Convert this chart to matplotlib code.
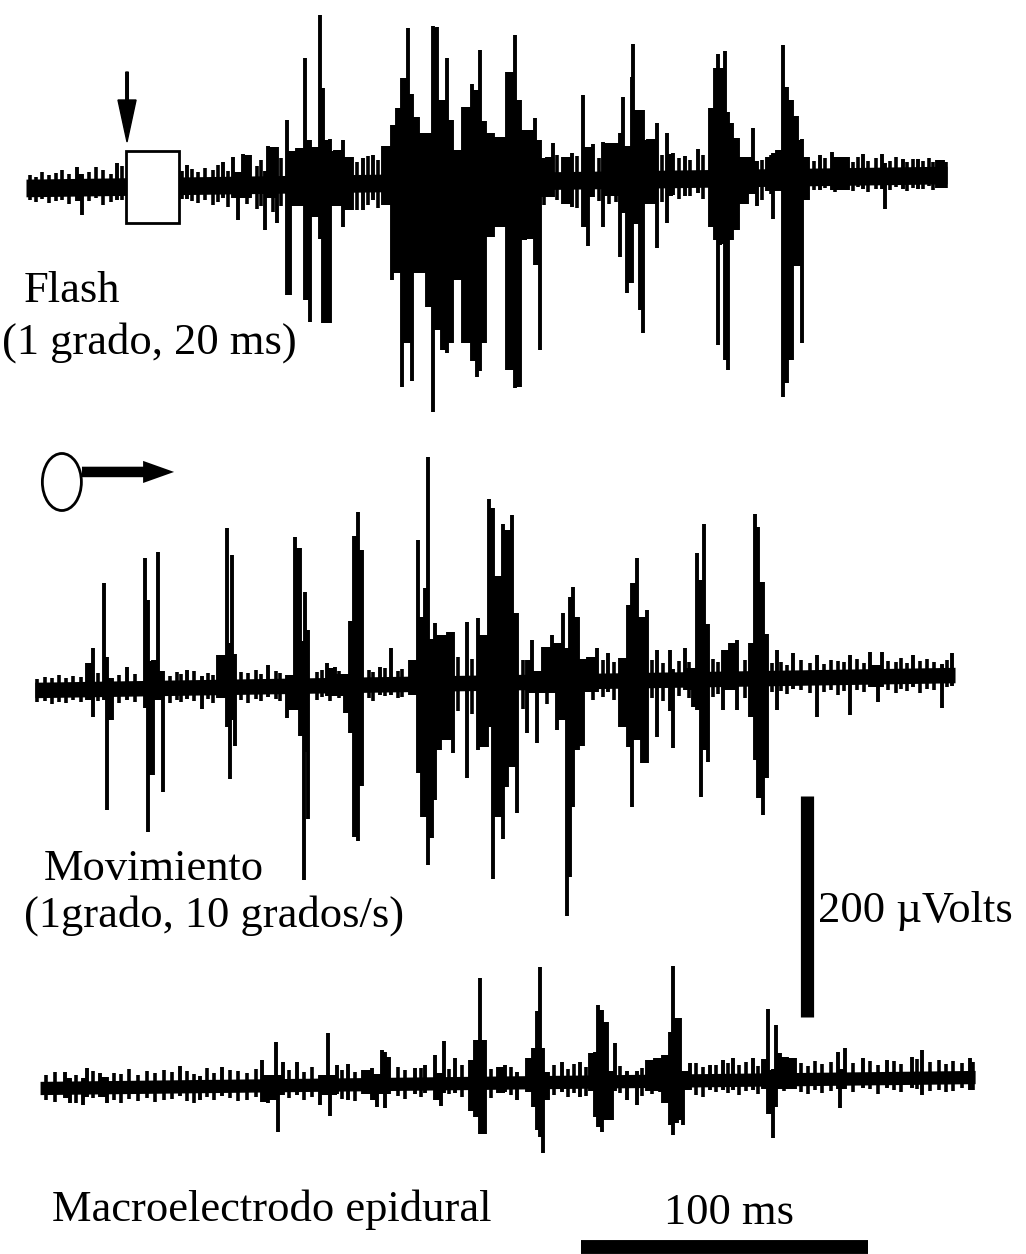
import numpy as np
import matplotlib
matplotlib.use("Agg")
import matplotlib.pyplot as plt
from matplotlib.patches import Rectangle, Ellipse, FancyArrow

# scale of the original record: pixels per ms and per microvolt
PX_MS = 2.87
PX_UV = 1.105

# --- trace 1: Flash (1 grado, 20 ms) ---  time ms, peak up uV, peak down uV
flash_t = [17.8, 19.5, 31.7, 56.1, 68.6, 72.1, 73.9, 75.6, 78.0, 83.3, 84.3, 87.5, 90.9, 92.0,
           94.4, 97.2, 99.0, 100.0, 102.4, 103.5, 105.9, 107.7, 110.5, 113.6, 117.4, 120.9,
           124.4, 127.5, 129.3, 131.0, 133.1, 134.5, 136.6, 139.7, 141.8, 143.2, 144.9, 146.7,
           148.4, 149.5, 152.3, 155.4, 157.1, 158.2, 159.9, 162.7, 165.2, 167.6, 170.4, 172.1,
           174.6, 177.4, 179.1, 181.5, 183.6, 187.1, 190.2, 194.1, 195.8, 197.6, 201.0, 204.2,
           207.0, 208.0, 209.4, 211.1, 211.5, 213.9, 215.0, 216.7, 219.9, 223.3, 225.4, 229.6,
           234.1, 238.3, 240.1, 241.1, 242.5, 243.6, 244.6, 246.0, 248.0, 251.2, 253.3, 254.7,
           258.2, 260.3, 261.7, 263.8, 265.2, 266.9, 268.6, 270.4, 272.5, 276.7, 280.8, 283.6,
           286.4, 291.6, 298.3, 299.3, 305.6, 310.8, 317.4, 319.5]
flash_up = [18, 12, 21, 19, 21, 25, 12, 28, 27, 12, 35, 34, 58, 30,
            33, 114, 40, 33, 153, 87, 40, 30, 39, 24, 23, 25,
            33, 52, 68, 95, 140, 80, 59, 45, 141, 140, 74, 112,
            56, 29, 68, 88, 83, 119, 55, 44, 40, 99, 132, 73,
            46, 57, 37, 21, 34, 21, 25, 77, 30, 33, 34, 33,
            42, 75, 30, 93, 123, 63, 63, 36, 51, 42, 23, 21,
            27, 64, 100, 112, 100, 115, 60, 50, 36, 19, 45, 15,
            19, 22, 25, 120, 82, 70, 55, 34, 18, 20, 22, 18,
            18, 20, 20, 12, 15, 15, 14, 14]
flash_dn = [12, 25, 12, 12, 12, 12, 32, 12, 12, 41, 12, 35, 100, 100,
            20, 105, 125, 30, 50, 126, 126, 20, 39, 24, 24, 15,
            20, 88, 82, 185, 145, 180, 82, 113, 208, 134, 152, 155,
            146, 89, 146, 162, 177, 171, 146, 50, 41, 171, 187, 186,
            53, 76, 153, 15, 15, 21, 24, 42, 60, 15, 43, 15,
            70, 30, 103, 94, 40, 118, 139, 22, 62, 40, 15, 16,
            13, 44, 56, 151, 60, 165, 174, 56, 47, 24, 15, 26,
            12, 38, 12, 199, 186, 165, 80, 150, 21, 12, 12, 12,
            12, 12, 12, 30, 12, 12, 12, 12]
# small background ripples of trace 1
flash_nt = [1.5, 3.5, 5.5, 8.0, 10.5, 12.5, 15.0, 22.0, 24.5, 27.0, 29.5, 33.5,
            54.5, 58.0, 60.0, 62.5, 65.0, 67.0, 70.5, 77.0, 80.5, 82.0, 86.0, 89.0,
            112.0, 115.5, 119.0, 122.5, 126.0, 180.5, 185.0, 189.0, 192.0, 199.5, 203.0,
            205.5, 218.0, 221.5, 227.5, 231.5, 236.0, 250.0, 256.5, 259.5, 274.5, 278.5,
            282.0, 285.0, 288.0, 290.0, 293.5, 296.0, 301.0, 303.0, 307.0, 309.0, 312.5,
            314.5, 316.0, 318.5, 320.5]
flash_nu = [12, 10, 14, 11, 13, 16, 12, 14, 18, 15, 12, 19,
            13, 15, 12, 16, 14, 18, 13, 20, 17, 22, 19, 24,
            22, 19, 25, 21, 24, 20, 23, 19, 22, 20, 24,
            21, 18, 22, 19, 17, 21, 18, 16, 20, 14, 17,
            12, 15, 13, 17, 14, 16, 13, 17, 12, 15, 13,
            16, 12, 14, 12]
flash_nd = [11, 13, 10, 14, 12, 11, 15, 13, 10, 16, 14, 12,
            12, 14, 16, 13, 18, 15, 20, 17, 22, 19, 25, 20,
            21, 24, 20, 23, 19, 22, 18, 21, 25, 19, 22,
            20, 17, 21, 18, 16, 19, 17, 20, 15, 12, 10,
            14, 11, 13, 10, 14, 12, 13, 10, 14, 11, 12,
            10, 13, 11, 12]

# --- trace 2: Movimiento (1grado, 10 grados/s) ---
mov_t = [21.3, 23.3, 27.2, 28.2, 30.0, 35.2, 41.5, 42.5, 44.3, 46.0, 47.7, 56.1, 61.3, 66.9,
         70.0, 71.1, 71.8, 72.8, 84.3, 90.9, 93.7, 95.5, 96.9, 97.2, 98.3, 104.9, 107.7,
         111.1, 112.9, 114.3, 115.7, 117.1, 123.3, 127.2, 133.8, 136.6, 138.0, 139.0, 140.1,
         141.5, 142.5, 144.3, 147.0, 148.8, 153.7, 157.5, 160.6, 161.3, 162.7, 164.5, 166.2,
         167.6, 169.3, 171.1, 174.6, 176.3, 178.0, 180.1, 183.3, 185.0, 187.1, 188.5, 189.5,
         190.6, 192.3, 194.1, 195.8, 199.0, 202.8, 207.0, 209.8, 211.1, 212.9, 214.6, 216.4,
         219.9, 224.4, 225.4, 229.6, 232.4, 233.8, 235.2, 236.2, 237.6, 242.9, 245.3, 247.7,
         252.3, 254.0, 255.1, 256.8, 258.2, 261.7, 267.2, 275.6, 287.1, 294.1, 296.9, 298.3,
         309.1, 319.2, 322.6]
mov_up = [24, 37, 96, 29, 10, 19, 118, 80, 25, 123, 15, 16, 10, 29,
          144, 40, 119, 30, 19, 10, 135, 125, 40, 85, 50, 20, 16,
          10, 58, 135, 156, 122, 16, 33, 22, 130, 60, 87, 205,
          40, 55, 44, 46, 46, 55, 59, 43, 166, 158, 96, 143,
          138, 151, 63, 20, 38, 10, 31, 42, 35, 62, 30, 76,
          85, 58, 20, 22, 30, 25, 20, 68, 88, 111, 57, 63,
          27, 27, 10, 28, 10, 114, 90, 140, 50, 26, 32, 35,
          32, 149, 137, 87, 40, 25, 22, 20, 20, 22, 10, 22,
          19, 10, 20]
mov_dn = [10, 25, 10, 110, 28, 10, 18, 130, 79, 11, 94, 10, 20, 10,
          36, 83, 30, 54, 10, 29, 22, 46, 176, 60, 121, 10, 10,
          25, 44, 138, 141, 92, 10, 10, 10, 81, 121, 121, 164,
          140, 105, 60, 51, 63, 86, 61, 58, 40, 178, 122, 142,
          95, 77, 118, 46, 10, 55, 10, 10, 44, 35, 212, 177,
          114, 62, 59, 10, 10, 10, 42, 60, 115, 54, 75, 75,
          52, 28, 62, 10, 25, 28, 107, 64, 75, 28, 10, 28,
          35, 74, 108, 124, 90, 29, 10, 36, 35, 10, 23, 10,
          10, 30, 10]
mov_nt = [4.0, 6.5, 9.0, 11.5, 14.0, 16.5, 19.0, 25.0, 32.5, 38.0, 50.0, 52.5, 54.0, 58.5,
          63.5, 65.0, 75.0, 77.5, 80.0, 82.0, 87.0, 88.5, 101.5, 103.0, 106.0, 109.0, 119.5,
          121.0, 125.0, 129.5, 131.0, 150.5, 155.5, 159.0, 173.0, 181.5, 197.5, 201.0, 205.0,
          218.0, 222.0, 227.5, 231.0, 239.5, 241.0, 250.5, 260.0, 263.0, 265.0, 270.0, 273.0,
          278.0, 280.5, 283.0, 285.0, 289.5, 292.0, 300.5, 303.0, 305.0, 307.0, 311.5, 314.0,
          316.5, 321.0]
mov_nu = [10, 12, 11, 13, 10, 12, 11, 14, 12, 13, 11, 14, 12, 15,
          13, 11, 13, 12, 15, 11, 14, 12, 12, 14, 11, 13, 13,
          11, 15, 12, 14, 24, 22, 26, 20, 18, 16, 19, 17,
          18, 15, 17, 16, 18, 15, 17, 14, 14, 12, 16, 13,
          12, 15, 14, 13, 16, 12, 14, 13, 16, 12, 13, 15,
          12, 14]
mov_nd = [11, 10, 13, 11, 12, 10, 12, 11, 13, 12, 14, 11, 13, 12,
          11, 14, 12, 15, 11, 13, 12, 14, 13, 11, 14, 12, 12,
          15, 11, 13, 12, 25, 28, 22, 24, 20, 17, 15, 18,
          16, 19, 15, 17, 16, 14, 18, 13, 12, 15, 11, 14,
          13, 12, 16, 13, 12, 14, 13, 15, 12, 14, 16, 12,
          13, 11]

# --- trace 3: Macroelectrodo epidural ---
epi_t = [13.6, 15.3, 19.9, 21.3, 25.8, 28.2, 53.7, 60.6, 68.3, 82.2, 84.3, 87.1, 87.8, 89.5,
         94.4, 102.4, 105.2, 105.9, 108.4, 112.2, 117.4, 120.6, 122.3, 124.0, 125.1, 126.5,
         135.5, 139.0, 142.5, 144.6, 145.6, 149.5, 154.7, 156.4, 158.2, 159.9, 164.5, 167.0,
         171.1, 174.6, 176.7, 178.0, 179.1, 180.1, 181.9, 186.8, 193.0, 196.5, 198.3, 199.3,
         200.7, 202.4, 204.2, 205.2, 209.4, 212.9, 216.4, 219.2, 222.0, 224.4, 225.4, 226.8,
         227.9, 228.9, 231.4, 238.3, 242.9, 246.3, 253.3, 256.8, 258.5, 260.3, 261.3, 262.7,
         265.2, 267.9, 282.9, 283.6, 285.4, 291.6, 300.0, 308.7, 312.2, 328.9]
epi_up = [14, 9, 9, 18, 13, 9, 18, 9, 17, 23, 9, 39, 9, 21,
          21, 9, 47, 9, 18, 18, 13, 15, 9, 31, 29, 24,
          14, 17, 26, 9, 38, 23, 21, 39, 95, 39, 14, 16,
          9, 22, 31, 64, 104, 31, 9, 18, 18, 26, 27, 69,
          65, 54, 9, 35, 9, 9, 19, 21, 23, 44, 104, 57,
          57, 9, 16, 14, 18, 20, 20, 19, 64, 9, 49, 24,
          20, 19, 24, 9, 28, 18, 16, 19, 25, 17]
epi_dn = [9, 14, 16, 9, 9, 14, 9, 13, 9, 15, 16, 13, 42, 9,
          9, 18, 9, 28, 9, 14, 9, 14, 21, 9, 22, 9,
          9, 9, 15, 21, 9, 9, 25, 31, 46, 46, 9, 9,
          16, 9, 22, 43, 50, 64, 16, 9, 14, 9, 32, 41,
          46, 35, 35, 9, 17, 22, 9, 9, 20, 40, 49, 38,
          36, 40, 9, 9, 9, 9, 9, 9, 31, 53, 25, 9,
          9, 9, 9, 27, 9, 9, 9, 9, 16, 12]
epi_nt = [7.0, 10.0, 17.5, 23.5, 30.5, 33.0, 36.0, 39.0, 42.0, 45.0, 48.0, 51.0, 56.0, 58.5,
          63.0, 65.5, 71.0, 74.0, 77.0, 80.0, 91.5, 97.0, 99.5, 110.0, 114.5, 129.5, 132.0,
          137.5, 147.5, 152.0, 162.0, 169.0, 184.0, 189.0, 191.0, 195.0, 207.0, 214.5, 218.0,
          221.0, 233.5, 236.0, 240.5, 244.5, 248.5, 251.0, 255.0, 264.0, 270.0, 272.5, 275.0,
          277.5, 280.5, 288.0, 294.0, 297.0, 302.5, 305.0, 310.5, 315.0, 318.0, 320.5, 323.0,
          326.0, 330.0]
epi_nu = [12, 14, 11, 15, 13, 12, 16, 11, 14, 12, 15, 13, 14, 11,
          16, 12, 14, 13, 11, 15, 14, 12, 16, 13, 11, 15, 12,
          14, 13, 16, 12, 14, 15, 12, 16, 13, 14, 12, 15,
          13, 16, 12, 14, 15, 13, 16, 12, 14, 15, 12, 16,
          13, 15, 14, 16, 12, 15, 13, 17, 14, 16, 12, 15,
          13, 14]
epi_nd = [11, 13, 14, 10, 12, 14, 11, 13, 10, 14, 12, 11, 13, 15,
          10, 13, 11, 14, 13, 10, 12, 14, 11, 13, 15, 11, 14,
          12, 10, 13, 14, 11, 12, 14, 10, 13, 11, 14, 12,
          10, 13, 15, 11, 12, 14, 10, 13, 11, 12, 14, 10,
          13, 11, 12, 10, 14, 11, 13, 10, 12, 11, 13, 12,
          10, 12]

fig = plt.figure(figsize=(10.26, 12.54), dpi=100)
ax = fig.add_axes([0, 0, 1, 1])
ax.set_xlim(-26 / PX_MS, 1000 / PX_MS)
ax.set_ylim(-1254 / PX_UV, 0)
ax.axis("off")

serif = ["Liberation Serif", "DejaVu Serif"]


def draw_trace(t, up, dn, nt, nu, nd, t0, t1, b0, b1, band):
    t = np.array(t)
    up = np.array(up)
    dn = np.array(dn)
    base = np.interp(t, [t0, t1], [b0, b1])
    # solid core of the baseline noise
    ax.fill_between([t0, t1], [b0 - band, b1 - band], [b0 + band, b1 + band],
                    color="black", lw=0)
    # background ripples
    nt = np.array(nt)
    nbase = np.interp(nt, [t0, t1], [b0, b1])
    ax.vlines(nt, nbase - np.array(nd), nbase + np.array(nu), color="black", lw=2.6)
    # dense part of the bursts: fill between neighbouring deflections
    gap = np.diff(t)
    close = gap < 3.4
    lo = np.minimum(dn[:-1], dn[1:])[close]
    hi = np.minimum(up[:-1], up[1:])[close]
    ax.bar(t[:-1][close], hi + lo, width=gap[close], bottom=base[:-1][close] - lo,
           align="edge", color="black", lw=0)
    # spikes
    ax.vlines(t, base - dn, base + up, color="black", lw=2.8)


draw_trace(flash_t, flash_up, flash_dn, flash_nt, flash_nu, flash_nd,
           0.0, 320.9, -170.1, -158.4, 8)
draw_trace(mov_t, mov_up, mov_dn, mov_nt, mov_nu, mov_nd,
           3.1, 323.7, -624.4, -610.9, 7)
draw_trace(epi_t, epi_up, epi_dn, epi_nt, epi_nu, epi_nd,
           4.9, 330.7, -984.6, -974.7, 6)

# flash stimulus: white box over the trace and arrow above it
ax.add_patch(Rectangle((34.8, -201.8), 18.5, 64.7, fc="white", ec="black",
                       lw=2.0, zorder=5))
ax.add_patch(FancyArrow(35.2, -65.2, 0, -63.3, width=0.9, head_width=6.3, head_length=38,
                        length_includes_head=True, color="black", zorder=5))

# moving stimulus: spot and arrow
ax.add_patch(Ellipse((12.5, -436.2), 13.6, 51.6, fc="white", ec="black", lw=2.0))
ax.add_patch(FancyArrow(19.5, -427.1, 32.1, 0, width=9.5, head_width=20, head_length=10.8,
                        length_includes_head=True, color="black", lw=0))

# scale bars
ax.plot([272.0, 272.0], [-920.4, -920.4 + 200], color="black", lw=9.5, solid_capstyle="butt")
ax.plot([193.4, 193.4 + 100], [-1128.5, -1128.5], color="black", lw=10, solid_capstyle="butt")


def label(x, y, s):
    fig.text(x / 1026, 1 - y / 1254, s, family=serif, fontsize=32, va="baseline", ha="left")


label(24, 302, "Flash")
label(2, 354, "(1 grado, 20 ms)")
label(44, 880, "Movimiento")
label(24, 927, "(1grado, 10 grados/s)")
label(818, 922, "200 \u00b5Volts")
label(52, 1221, "Macroelectrodo epidural")
label(664, 1224, "100 ms")

fig.savefig("out.png", dpi=100, facecolor="white")
